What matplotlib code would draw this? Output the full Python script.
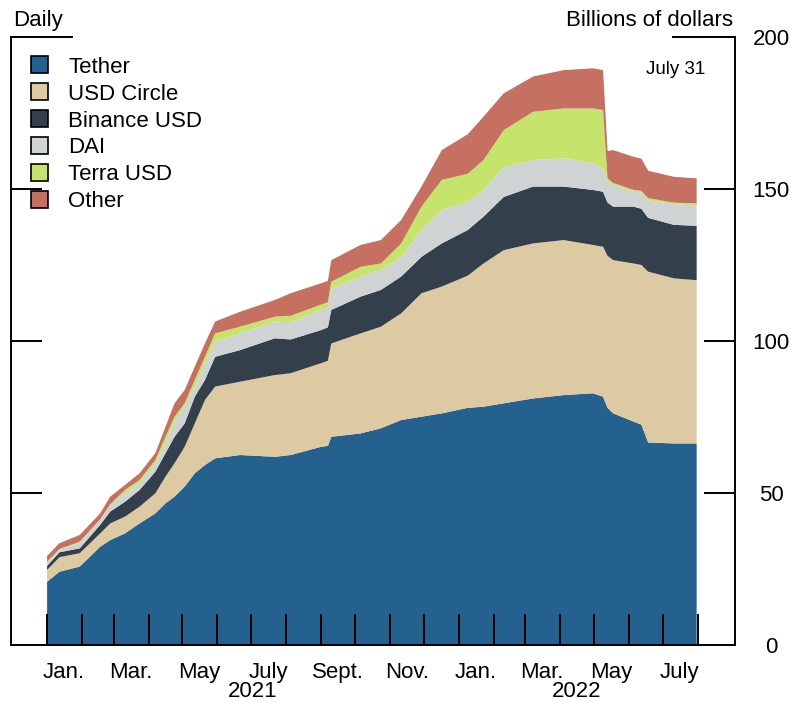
import numpy as np
import matplotlib
matplotlib.use("Agg")
import matplotlib.pyplot as plt
import matplotlib.transforms as mtransforms
from matplotlib.patches import Patch
from matplotlib.lines import Line2D

plt.rcParams['font.family'] = ['Liberation Sans', 'DejaVu Sans']

# stablecoin market capitalization, billions of dollars
dates = np.array([
    "2021-01-01", "2021-01-12", "2021-01-30", "2021-02-17", "2021-02-26",
    "2021-03-11", "2021-03-24", "2021-04-07", "2021-04-16", "2021-04-24",
    "2021-05-03", "2021-05-12", "2021-05-21", "2021-05-30", "2021-06-21",
    "2021-07-22", "2021-08-05", "2021-09-01", "2021-09-07", "2021-09-10",
    "2021-10-06", "2021-10-24", "2021-11-11", "2021-11-29", "2021-12-17",
    "2022-01-09", "2022-01-23", "2022-02-10", "2022-03-08", "2022-04-04",
    "2022-04-30", "2022-05-09", "2022-05-13", "2022-05-18", "2022-06-05",
    "2022-06-12", "2022-06-18", "2022-07-11", "2022-07-31",
], dtype="datetime64[D]")

tether = [20.8, 24.1, 25.8, 32.3, 34.5, 36.7, 40.0, 43.3, 46.6, 48.8,
          52.1, 56.5, 59.2, 61.4, 62.5, 61.9, 62.5, 65.2, 65.5, 68.5,
          69.6, 71.3, 74.0, 75.1, 76.2, 78.0, 78.4, 79.5, 81.1, 82.2,
          82.8, 81.7, 78.0, 76.2, 73.5, 72.5, 66.6, 66.3, 66.3]
usd_circle = [3.9, 4.8, 4.4, 4.4, 5.5, 5.5, 5.5, 6.6, 8.8, 11.0,
              13.1, 16.4, 21.4, 23.6, 24.1, 26.9, 26.9, 27.5, 28.0, 30.7,
              32.9, 33.4, 35.1, 40.6, 41.7, 43.5, 47.1, 50.4, 51.0, 51.0,
              48.8, 49.3, 50.0, 50.4, 52.0, 52.5, 56.2, 54.3, 53.7]
binance_usd = [1.3, 1.6, 1.6, 2.8, 3.9, 4.9, 5.5, 7.1, 7.7, 8.7,
               7.7, 8.8, 6.6, 9.8, 10.4, 12.1, 11.1, 10.9, 11.0, 11.0,
               12.1, 12.1, 12.1, 12.0, 14.2, 15.0, 15.4, 17.5, 18.7, 17.6,
               18.1, 18.1, 17.5, 17.6, 18.7, 18.5, 17.7, 17.6, 17.9]
dai = [1.2, 0.9, 1.8, 1.6, 2.1, 2.8, 2.2, 2.8, 3.2, 5.0,
       5.5, 3.3, 5.5, 5.0, 5.5, 5.5, 5.7, 6.6, 6.5, 7.1,
       6.6, 6.6, 6.5, 8.8, 11.0, 9.3, 8.8, 9.9, 8.7, 9.3,
       8.7, 7.7, 7.0, 7.1, 4.9, 5.3, 5.8, 6.8, 6.8]
terra_usd = [0.2, 0.2, 0.4, 0.2, 0.3, 1.1, 1.1, 1.1, 2.2, 1.6,
             1.1, 2.2, 2.1, 2.7, 2.2, 1.6, 2.1, 1.8, 1.8, 2.2,
             3.2, 2.1, 4.4, 7.7, 9.9, 9.2, 9.8, 12.1, 15.9, 16.4,
             18.1, 19.2, 1.0, 0.7, 0.6, 0.6, 0.7, 0.5, 0.6]
other = [1.9, 1.9, 2.2, 2.0, 2.5, 1.6, 2.2, 2.2, 3.3, 4.4,
         4.4, 4.4, 4.4, 3.9, 4.9, 5.5, 7.4, 7.0, 7.0, 7.1,
         7.2, 7.7, 7.7, 6.6, 9.8, 13.0, 14.3, 12.1, 11.6, 12.6,
         13.2, 13.1, 9.0, 10.8, 10.9, 10.6, 9.0, 8.5, 8.2]

labels = ["Tether", "USD Circle", "Binance USD", "DAI", "Terra USD", "Other"]
colors = ["#24618f", "#ddcaa3", "#333f4a", "#cfd3d4", "#c6e46b", "#c57060"]

month_labels = ["Jan.", "Mar.", "May", "July", "Sept.", "Nov.",
                "Jan.", "Mar.", "May", "July"]
month_label_dates = np.array([
    "2021-01-16", "2021-03-16", "2021-05-16", "2021-07-16", "2021-09-16",
    "2021-11-16", "2022-01-16", "2022-03-16", "2022-05-16", "2022-07-16",
], dtype="datetime64[D]")
years = ["2021", "2022"]
year_dates = np.array(["2021-07-02", "2022-04-16"], dtype="datetime64[D]")

W, H = 794, 702
fs = 16
fig = plt.figure(figsize=(W / 100, H / 100), dpi=100)
ax = fig.add_axes([11 / W, 1 - 645 / H, 724 / W, 608 / H])

ax.stackplot(dates, tether, usd_circle, binance_usd, dai, terra_usd, other,
             colors=colors, linewidth=0)

ax.set_xlim(np.datetime64("2020-11-30"), np.datetime64("2022-09-03"))
ax.set_ylim(0, 200)

lw = 1.4
for s in ["left", "right", "bottom"]:
    ax.spines[s].set_linewidth(lw)
ax.spines["top"].set_visible(False)
# short top pieces at 200 on both sides
ax.add_line(Line2D([0, 61 / 724], [1, 1], transform=ax.transAxes,
                   color="black", lw=lw, clip_on=False))
ax.add_line(Line2D([1 - 62 / 724, 1], [1, 1], transform=ax.transAxes,
                   color="black", lw=lw, clip_on=False))

# y axis: inward ticks both sides, labels on the right
ax.set_yticks([0, 50, 100, 150, 200])
ax.tick_params(axis="y", left=True, right=True, labelleft=False,
               labelright=True, direction="in", length=22.3, width=lw,
               pad=26, labelsize=fs)
for t in ax.get_yticklabels():
    t.set_horizontalalignment("center")

# x axis: month boundary ticks, labels at mid month
month_starts = np.arange(np.datetime64("2021-01"), np.datetime64("2022-09"),
                         dtype="datetime64[M]").astype("datetime64[D]")
ax.set_xticks(month_starts)
ax.xaxis.set_major_formatter(plt.NullFormatter())
ax.set_xticks(month_label_dates, minor=True)
ax.set_xticklabels(month_labels, minor=True)
ax.tick_params(axis="x", which="major", direction="in", length=22.3,
               width=lw, labelbottom=False)
ax.tick_params(axis="x", which="minor", length=0, pad=12, labelsize=fs)

trans = mtransforms.blended_transform_factory(ax.transData, ax.transAxes)
for d, y in zip(year_dates, years):
    ax.text(d, -52 / 608, y, transform=trans, ha="center", va="baseline",
            fontsize=fs)

handles = [Patch(facecolor=c, edgecolor="black", linewidth=1.2) for c in colors]
ax.legend(handles, labels, loc="upper left", bbox_to_anchor=(20 / 724, 0.968),
          frameon=False, fontsize=fs, handlelength=0.78, handleheight=0.78,
          handletextpad=0.9, labelspacing=0.265, borderpad=0, borderaxespad=0)

fig.text(13 / W, 1 - 26 / H, "Daily", ha="left", va="baseline", fontsize=fs)
fig.text(733 / W, 1 - 26 / H, "Billions of dollars", ha="right",
         va="baseline", fontsize=fs)
fig.text(705 / W, 1 - 74 / H, "July 31", ha="right", va="baseline",
         fontsize=13.5)

fig.savefig("out.png", dpi=100)
